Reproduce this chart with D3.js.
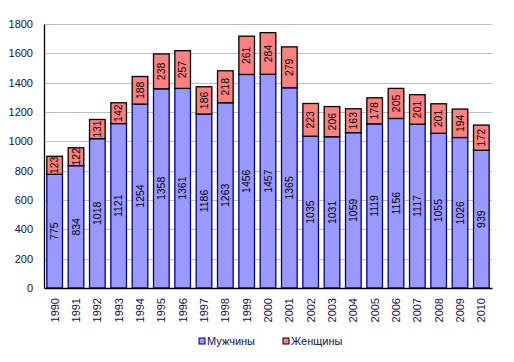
<!DOCTYPE html>
<html>
<head>
<meta charset="utf-8">
<script src="https://cdn.jsdelivr.net/npm/d3@7"></script>
<style>
body { margin: 0; background: #fff; }
svg text { font-family: Arial, "Liberation Sans", sans-serif; }
</style>
</head>
<body>
<div id="chart"></div>
<script>
// years and counts
var years = ["1990","1991","1992","1993","1994","1995","1996","1997","1998","1999","2000",
             "2001","2002","2003","2004","2005","2006","2007","2008","2009","2010"];
var men = [775, 834, 1018, 1121, 1254, 1358, 1361, 1186, 1263, 1456, 1457,
           1365, 1035, 1031, 1059, 1119, 1156, 1117, 1055, 1026, 939];
var women = [123, 122, 131, 142, 188, 238, 257, 186, 218, 261, 284,
             279, 223, 206, 163, 178, 205, 201, 201, 194, 172];
var seriesNames = ["Мужчины", "Женщины"];
var yTicks = [0, 200, 400, 600, 800, 1000, 1200, 1400, 1600, 1800];

var width = 514, height = 362;
var margin = {top: 24, right: 22, bottom: 74, left: 44};
var colors = ["#9999ff", "#ff8080"];
var strokes = ["#000080", "#000000"];

var svg = d3.select("#chart").append("svg")
    .attr("width", width)
    .attr("height", height);

var x = d3.scaleBand()
    .domain(years)
    .range([margin.left, width - margin.right])
    .paddingInner(0.22)
    .paddingOuter(0.11);

var y = d3.scaleLinear()
    .domain([0, 1800])
    .range([height - margin.bottom, margin.top]);

// gridlines
svg.append("g")
    .selectAll("line")
    .data(yTicks.slice(1))
    .enter().append("line")
    .attr("x1", margin.left)
    .attr("x2", width - margin.right)
    .attr("y1", function(d) { return Math.round(y(d)) + 0.5; })
    .attr("y2", function(d) { return Math.round(y(d)) + 0.5; })
    .attr("stroke", "#c0c0c0")
    .attr("stroke-width", 1);

// stack the two series
var rows = years.map(function(yr, i) { return {year: yr, m: men[i], w: women[i]}; });
var stacked = d3.stack().keys(["m", "w"])(rows);

var layers = svg.selectAll(".layer")
    .data(stacked)
    .enter().append("g")
    .attr("class", "layer");

layers.selectAll("rect")
    .data(function(d, i) { return d.map(function(p) { return {p: p, s: i}; }); })
    .enter().append("rect")
    .attr("x", function(d) { return x(d.p.data.year) + 0.5; })
    .attr("width", x.bandwidth() - 1)
    .attr("y", function(d) { return y(d.p[1]); })
    .attr("height", function(d) { return y(d.p[0]) - y(d.p[1]); })
    .attr("fill", function(d) { return colors[d.s]; })
    .attr("stroke", function(d) { return strokes[d.s]; })
    .attr("stroke-width", 1.3);

// value labels, rotated
layers.selectAll("text")
    .data(function(d) { return d.map(function(p) { return p; }); })
    .enter().append("text")
    .attr("transform", function(p) {
        var cx = x(p.data.year) + x.bandwidth() / 2;
        var cy = (y(p[0]) + y(p[1])) / 2;
        return "translate(" + cx + "," + cy + ") rotate(-90)";
    })
    .attr("text-anchor", "middle")
    .attr("dy", "0.36em")
    .attr("font-size", "10.5px")
    .attr("fill", "#000")
    .text(function(p) { return p[1] - p[0]; });

// y axis
var yAxis = svg.append("g")
    .attr("transform", "translate(" + margin.left + ",0)")
    .call(d3.axisLeft(y).tickValues(yTicks).tickFormat(d3.format("d")).tickSize(0).tickPadding(11));
yAxis.select(".domain").attr("stroke", "#000").attr("stroke-width", 1.3);
yAxis.selectAll("text")
    .attr("font-size", "11px")
    .attr("font-family", "Arial, 'Liberation Sans', sans-serif")
    .attr("fill", "#10104a");

// x axis
var xAxis = svg.append("g")
    .attr("transform", "translate(0," + (height - margin.bottom) + ")")
    .call(d3.axisBottom(x).tickSize(0).tickPadding(0));
xAxis.select(".domain").attr("stroke", "#000").attr("stroke-width", 1.3);
xAxis.selectAll("text")
    .attr("font-size", "11px")
    .attr("font-family", "Arial, 'Liberation Sans', sans-serif")
    .attr("fill", "#10104a")
    .attr("text-anchor", "end")
    .attr("transform", "rotate(-90)")
    .attr("x", -10)
    .attr("y", 0)
    .attr("dy", "0.36em");

// legend
var legendX = [199, 283];
var legend = svg.append("g")
    .selectAll("g")
    .data(seriesNames)
    .enter().append("g")
    .attr("transform", function(d, i) { return "translate(" + legendX[i] + ",338)"; });
legend.append("rect")
    .attr("width", 6)
    .attr("height", 6)
    .attr("fill", function(d, i) { return colors[i]; })
    .attr("stroke", function(d, i) { return strokes[i]; })
    .attr("stroke-width", 1);
legend.append("text")
    .attr("x", 8)
    .attr("y", 3)
    .attr("dy", "0.36em")
    .attr("font-size", "11px")
    .attr("fill", "#10104a")
    .text(function(d) { return d; });
</script>
</body>
</html>
